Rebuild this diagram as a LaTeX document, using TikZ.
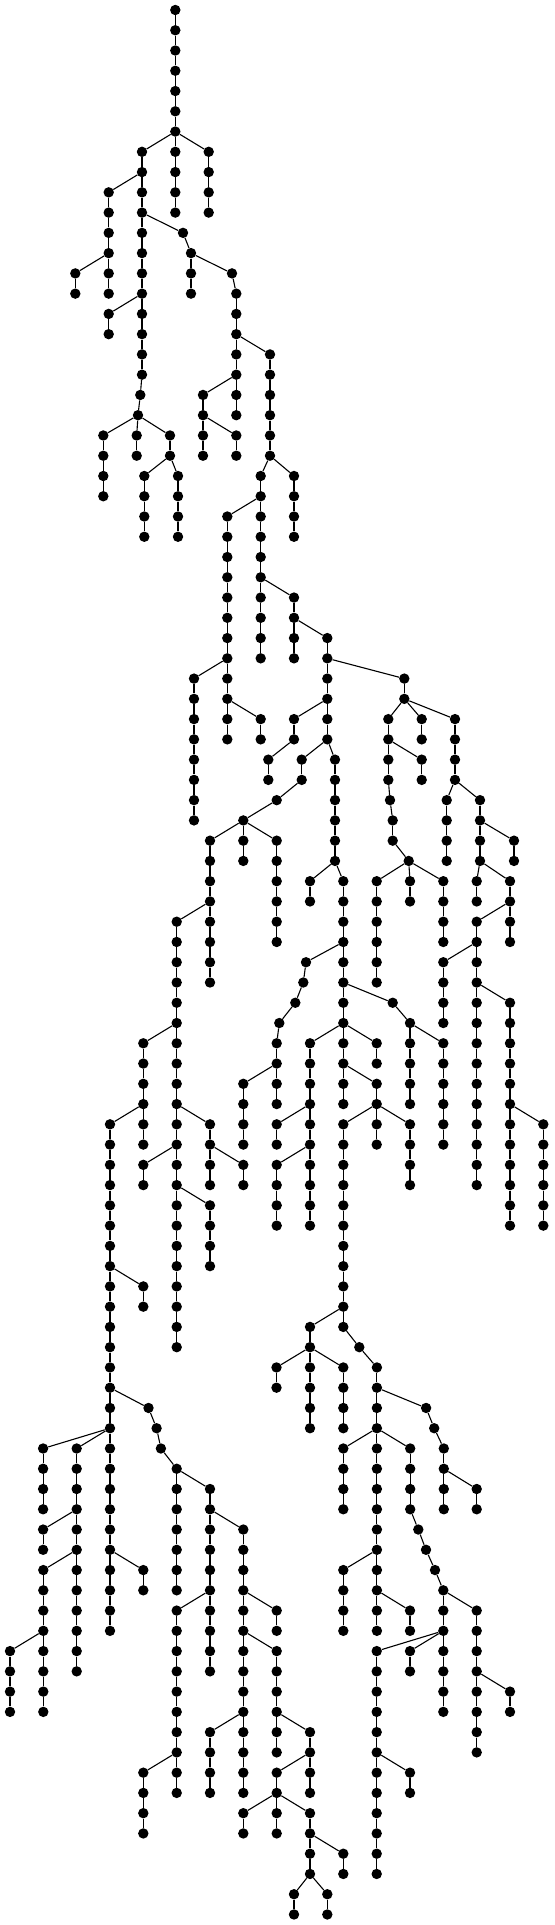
\documentclass[tikz,border=0pt]{standalone}
\begin{document}
\begin{tikzpicture}[
            x=1pt, y=-20.26pt,
            leaf/.style={circle, fill=black, inner sep=0pt, minimum size=10.4pt},
            edge/.style={line width=1.1pt}
        ]
            \useasboundingbox (0,-0.4936) rectangle (554,94.52);
            \node[leaf] (R-0) at (175.3,0) {};
            % branch/parent/x/first level/last level
            \foreach \sg/\up/\col/\first/\last in {
                R/R-0/175.3/1/6,
                A/R-6/142/7/18, B/R-6/175.3/7/10, C/R-6/208.7/7/10,
                D/A-8/108.7/9/14, E/D-12/75.3/13/14, A1/A-14/108.7/15/16,
                A2/A-18/140.3/19/19, A3/A2-19/138/20/20,
                A4/A3-20/103.3/21/24, A5/A3-20/136.7/21/22, A6/A3-20/170/21/22,
                A7/A6-22/144.3/23/26, A8/A6-22/178/23/26,
                F/A-10/183/11/11, G/F-11/191/12/14, H/G-12/232/13/13,
                I/H-13/236.3/14/20, I1/I-18/203/19/22, I2/I1-20/236.3/21/22,
                J/I-16/270/17/22, K/J-22/260.7/23/32, L/J-22/294/23/26,
                M/K-24/227.3/25/36, N/M-32/194/33/40, O/M-34/260.7/35/36,
                P/K-28/294/29/32, Q/P-30/327.3/31/36,
                S/Q-32/404.3/33/34, T/S-34/388.3/35/38, V/T-36/421.7/37/38,
                T2/T-38/390/39/39, T3/T2-39/392.7/40/41, T4/T3-41/408.7/42/42,
                U1/T4-42/376.7/43/48, U2/T4-42/410/43/44, U3/T4-42/443.3/43/46,
                W/S-34/421.7/35/36, X/S-34/455/35/38,
                Y/X-38/446.7/39/42, Z/X-38/480/39/42, Z1/Z-40/514/41/42,
                Z2/Z-42/476.7/43/44, Z3/Z-42/510/43/46, Z4/Z3-44/476.7/45/58,
                Z5/Z4-46/443.3/47/50, Z6/Z4-48/510/49/60, Z7/Z6-54/543.3/55/60,
                Q1/Q-34/294/35/36, Q2/Q1-36/268.3/37/38,
                Q3/Q-36/301.7/37/38, Q4/Q3-38/276.7/39/39, Q5/Q4-39/243.3/40/42,
                Q6/Q5-40/210/41/48, Q41/Q5-40/276.7/41/46,
                Q8/Q6-44/176.7/45/66, Q9/Q8-50/143.3/51/56, Q10/Q9-54/110/55/80,
                Q11/Q10-62/143.3/63/64,
                Q12/Q10-68/148.5/69/69, Q13/Q12-69/156.6/70/70, Q14/Q13-70/160.9/71/71,
                Q15/Q14-71/176.7/72/78, Q16/Q15-72/210/73/82, Q17/Q16-74/243.3/75/88,
                Q18/Q17-78/276.7/79/80, Q19/Q17-80/276.7/81/86, Q20/Q19-84/310/85/88,
                Q21/Q20-86/276.7/87/90, Q22/Q21-88/243.3/89/90, Q23/Q21-88/310/89/92,
                Q24/Q23-90/343.3/91/92, Q25/Q23-92/294/93/94, Q26/Q23-92/327.3/93/94,
                Q27/Q17-84/210/85/88, Q28/Q16-78/176.7/79/88, Q29/Q28-86/143.3/87/90,
                Q30/Q10-70/43.1/71/74, Q31/Q10-70/76.7/71/82, Q32/Q31-74/43.1/75/76,
                Q33/Q31-76/43.3/77/84, Q34/Q33-80/10/81/84, Q35/Q10-76/143.3/77/78,
                Q36/Q8-56/143.3/57/58, Q37/Q8-54/210/55/58, Q38/Q37-56/243.3/57/58,
                Q39/Q8-58/210/59/62,
                Q42/Q-36/335/37/42, Q43/Q42-42/310/43/44, Q44/Q42-42/343.3/43/54,
                Q45/Q44-46/306/47/47, Q46/Q45-47/303.3/48/48, Q47/Q46-48/295.3/49/49,
                Q48/Q47-49/279.3/50/50, Q49/Q48-50/276.7/51/54, Q50/Q49-52/243.3/53/56,
                Q51/Q44-48/392.7/49/49, Q52/Q51-49/410/50/54, Q53/Q52-50/443.3/51/56,
                Q54/Q44-50/310/51/60, Q55/Q54-54/276.7/55/56, Q56/Q54-56/276.7/57/60,
                Q57/Q44-50/376.7/51/52, Q58/Q44-52/376.7/53/54,
                Q59/Q58-54/343.3/55/65, Q60/Q59-64/310/65/70,
                Q61/Q60-66/276.5/67/68, Q62/Q60-66/343.3/67/70,
                Q63/Q59-65/359.3/66/66, Q64/Q63-66/376.9/67/80,
                Q65/Q64-68/426.1/69/69, Q66/Q65-69/434.2/70/70, Q67/Q66-70/443.8/71/74,
                Q68/Q67-72/476.7/73/74, Q69/Q64-70/343.3/71/74, Q70/Q64-70/410.2/71/74,
                Q71/Q70-74/418.3/75/75, Q72/Q71-75/426/76/76, Q73/Q72-76/435/77/77,
                Q74/Q73-77/443.3/78/84, Q75/Q74-78/476.7/79/86, Q76/Q75-82/510/83/84,
                Q77/Q74-80/376.7/81/92, Q78/Q74-80/410/81/82, Q79/Q77-86/410/87/88,
                Q80/Q64-76/343.3/77/80, Q81/Q64-78/410/79/80,
                Q82/Q58-54/376.7/55/56, Q83/Q58-54/410/55/58
            }{
                \foreach \l [remember=\l as \m (initially 0)] in {\first,...,\last}{
                    \node[leaf] (\sg-\l) at (\col,\l) {};
                    \ifnum\l=\first
                        \draw[edge] (\up) -- (\sg-\l);
                    \else
                        \draw[edge] (\sg-\m) -- (\sg-\l);
                    \fi
                }
            }
        \end{tikzpicture}
\end{document}
